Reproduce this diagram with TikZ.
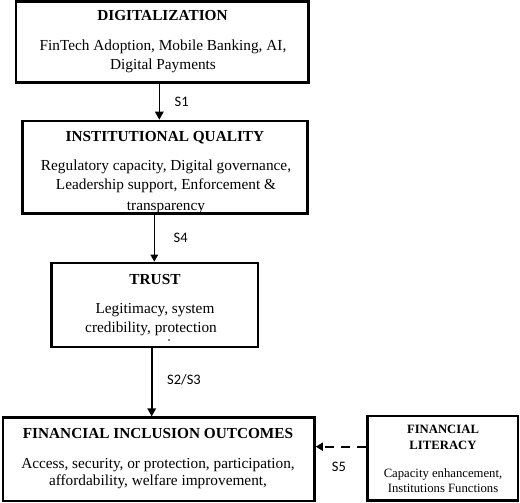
\documentclass[tikz,border=0pt]{standalone}
\usepackage{fontspec}
\setmainfont{Liberation Serif}
\newfontfamily\lblfont{Carlito}
\usetikzlibrary{arrows.meta}
\begin{document}
\begin{tikzpicture}[x=1pt,y=-1pt,
  box/.style={draw, line width=2.6pt, inner sep=0pt, fill=none},
  ttl/.style={font=\fontsize{15.3}{18}\selectfont\bfseries, anchor=base, inner sep=0pt},
  bodytxt/.style={font=\fontsize{15.3}{18}\selectfont, anchor=base, inner sep=0pt},
  sttl/.style={font=\fontsize{12.7}{15}\selectfont\bfseries, anchor=base, inner sep=0pt},
  sbody/.style={font=\fontsize{12.7}{15}\selectfont, anchor=base, inner sep=0pt},
  lbl/.style={font=\fontsize{14.5}{16}\selectfont\lblfont, inner sep=0pt},
  arr/.style={line width=1.6pt, -{Triangle[length=8pt,width=8.5pt]}},
  thinarr/.style={line width=1.1pt, -{Triangle[length=7pt,width=7.5pt]}},
  darr/.style={line width=1.8pt, dash pattern=on 9pt off 7pt, -{Triangle[length=7pt,width=8pt]}},
  tick/.style={circle, fill=black, inner sep=0pt, minimum size=1.6pt}
]
\useasboundingbox (0,0) rectangle (520,503);
\fill[white] (0,0) rectangle (520,503);

% boxes
\node[box, minimum width=292.3pt, minimum height=80.8pt] (b1) at (162.2,42.1) {};
\node[box, minimum width=284.6pt, minimum height=92.5pt] (b2) at (165,167.25) {};
\node[box, minimum width=206.3pt, minimum height=84pt] (b3) at (154.85,305) {};
\node[box, minimum width=311.5pt, minimum height=83.3pt] (b4) at (158.75,459.35) {};
\node[box, minimum width=150.5pt, minimum height=84.5pt] (b5) at (442.75,458.25) {};

% box 1 text
\node[ttl] (t1) at (162.5,21) {DIGITALIZATION};
\node[bodytxt] (t1a) at (163,51) {FinTech Adoption, Mobile Banking, AI,};
\node[bodytxt] (t1b) at (163,69.5) {Digital Payments};

% box 2 text
\node[ttl] (t2) at (165,142) {INSTITUTIONAL QUALITY};
\begin{scope}
\clip ([xshift=1.3pt,yshift=-1.3pt]b2.south west) rectangle ([xshift=-1.3pt,yshift=1.3pt]b2.north east);
\node[bodytxt] (t2a) at (166,171) {Regulatory capacity, Digital governance,};
\node[bodytxt] (t2b) at (166,189.5) {Leadership support, Enforcement \&};
\node[bodytxt] (t2c) at (166,210.3) {transparency};
\end{scope}

% box 3 text
\node[ttl] (t3) at (155,284) {TRUST};
\node[bodytxt] (t3a) at (155,313) {Legitimacy, system};
\node[bodytxt] (t3b) at (151,332) {credibility, protection};
\node[tick] (t3c) at (169,340) {};

% box 4 text
\node[ttl] (t4) at (158,438) {FINANCIAL INCLUSION OUTCOMES};
\node[bodytxt] (t4a) at (158,468) {Access, security, or protection, participation,};
\node[bodytxt] (t4b) at (158,485) {affordability, welfare improvement,};

% box 5 text
\node[sttl] (t5) at (443,433.5) {FINANCIAL};
\node[sttl] (t5b) at (443,449.5) {LITERACY};
\node[sbody] (t5c) at (443,477) {Capacity enhancement,};
\node[sbody] (t5d) at (443,492) {Institutions Functions};

% connectors
\draw[arr] (159.3,0 |- b1.south) -- (159.3,0 |- b2.north);
\draw[thinarr] (154.3,0 |- b2.south) -- (154.3,0 |- b3.north);
\draw[arr] (151.7,0 |- b3.south) -- (151.7,0 |- b4.north);
\draw[darr] (b5.west |- 0,446.7) -- (b4.east |- 0,446.7);

% labels
\node[lbl] (l1) at (181.7,101.7) {S1};
\node[lbl] (l4) at (180.7,238) {S4};
\node[lbl] (l23) at (184,380) {S2/S3};
\node[lbl] (l5) at (339,467) {S5};
\end{tikzpicture}
\end{document}
